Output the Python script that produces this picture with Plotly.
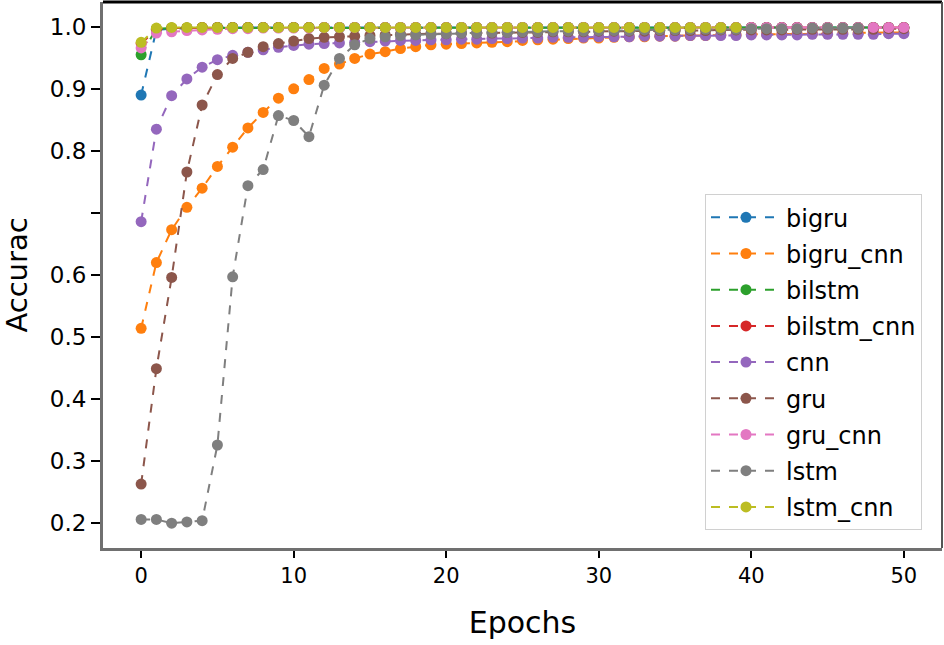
import plotly.graph_objects as go

# accuracy per epoch
bigru = [0.890, 0.995, 0.997, 0.998, 0.998, 0.999, 0.999, 0.999, 0.999, 0.999,
         0.999, 0.999, 0.999, 0.999, 0.999, 0.999, 0.999, 0.999, 0.999, 0.999,
         0.999, 0.999, 0.999, 0.999, 0.999, 0.999, 0.999, 0.999, 0.999, 0.999,
         0.999, 0.999, 0.999, 0.999, 0.999, 0.999, 0.999, 0.999, 0.999, 0.999,
         0.999, 0.999, 0.999, 0.999, 0.999, 0.999, 0.999, 0.999, 0.999, 0.999, 0.999]
bigru_cnn = [0.514, 0.620, 0.673, 0.709, 0.740, 0.775, 0.806, 0.837, 0.862, 0.885,
             0.900, 0.915, 0.933, 0.940, 0.949, 0.956, 0.960, 0.965, 0.968, 0.971,
             0.972, 0.973, 0.974, 0.975, 0.976, 0.978, 0.979, 0.980, 0.981, 0.982,
             0.982, 0.983, 0.984, 0.984, 0.985, 0.985, 0.986, 0.986, 0.987, 0.987,
             0.988, 0.988, 0.988, 0.989, 0.989, 0.989, 0.990, 0.990, 0.990, 0.990, 0.991]
bilstm = [0.955, 0.997, 0.998, 0.998, 0.999, 0.999, 0.999, 0.999, 0.999, 0.999,
          0.999, 0.999, 0.999, 0.999, 0.999, 0.999, 0.999, 0.999, 0.999, 0.999,
          0.999, 0.999, 0.999, 0.999, 0.999, 0.999, 0.999, 0.999, 0.999, 0.999,
          0.999, 0.999, 0.999, 0.999, 0.999, 0.999, 0.999, 0.999, 0.999, 0.999,
          0.999, 0.999, 0.999, 0.999, 0.999, 0.999, 0.999, 0.999, 0.999, 0.999, 0.999]
bilstm_cnn = [0.973, 0.996, 0.998, 0.998, 0.999, 0.999, 0.999, 0.999, 0.999, 0.999,
              0.999, 0.999, 0.999, 0.999, 0.999, 0.999, 0.999, 0.999, 0.999, 0.999,
              0.999, 0.999, 0.999, 0.999, 0.999, 0.999, 0.999, 0.999, 0.999, 0.999,
              0.999, 0.999, 0.999, 0.999, 0.999, 0.999, 0.999, 0.999, 0.999, 0.999,
              0.999, 0.999, 0.999, 0.999, 0.999, 0.999, 0.999, 0.999, 0.999, 0.999, 0.999]
cnn = [0.686, 0.835, 0.889, 0.916, 0.935, 0.947, 0.954, 0.959, 0.963, 0.967,
       0.970, 0.972, 0.973, 0.974, 0.975, 0.976, 0.977, 0.978, 0.978, 0.979,
       0.979, 0.980, 0.980, 0.981, 0.981, 0.982, 0.982, 0.983, 0.983, 0.983,
       0.984, 0.984, 0.984, 0.985, 0.985, 0.985, 0.986, 0.986, 0.986, 0.986,
       0.987, 0.987, 0.987, 0.987, 0.988, 0.988, 0.988, 0.988, 0.988, 0.989, 0.989]
gru = [0.263, 0.449, 0.596, 0.766, 0.874, 0.923, 0.949, 0.959, 0.968, 0.973,
       0.977, 0.981, 0.983, 0.984, 0.985, 0.986, 0.987, 0.988, 0.988, 0.989,
       0.989, 0.990, 0.990, 0.990, 0.991, 0.991, 0.991, 0.992, 0.992, 0.992,
       0.993, 0.993, 0.993, 0.993, 0.994, 0.994, 0.994, 0.994, 0.995, 0.995,
       0.995, 0.995, 0.995, 0.996, 0.996, 0.996, 0.996, 0.996, 0.996, 0.997, 0.997]
gru_cnn = [0.966, 0.990, 0.992, 0.994, 0.995, 0.996, 0.997, 0.997, 0.998, 0.998,
           0.998, 0.998, 0.999, 0.999, 0.999, 0.999, 0.999, 0.999, 0.999, 0.999,
           0.999, 0.999, 0.999, 0.999, 0.999, 0.999, 0.999, 0.999, 0.999, 0.999,
           0.999, 0.999, 0.999, 0.999, 0.999, 0.999, 0.999, 0.999, 0.999, 0.999,
           0.999, 0.999, 0.999, 0.999, 0.999, 0.999, 0.999, 0.999, 0.999, 0.999, 0.999]
lstm = [0.206, 0.206, 0.200, 0.202, 0.204, 0.326, 0.597, 0.744, 0.770, 0.857,
        0.849, 0.823, 0.906, 0.949, 0.971, 0.981, 0.984, 0.986, 0.987, 0.988,
        0.989, 0.990, 0.990, 0.991, 0.991, 0.992, 0.992, 0.993, 0.993, 0.993,
        0.994, 0.994, 0.994, 0.995, 0.995, 0.995, 0.996, 0.996, 0.996, 0.996,
        0.997, 0.997, 0.997, 0.997, 0.998, 0.998, 0.998, 0.998]
lstm_cnn = [0.975, 0.998, 0.999, 0.999, 0.999, 0.999, 0.999, 0.999, 0.999, 0.999,
            0.999, 0.999, 0.999, 0.999, 0.999, 0.999, 0.999, 0.999, 0.999, 0.999,
            0.999, 0.999, 0.999, 0.999, 0.999, 0.999, 0.999, 0.999, 0.999, 0.999,
            0.999, 0.999, 0.999, 0.999, 0.999, 0.999, 0.999, 0.999, 0.999, 0.999]

names = ['bigru', 'bigru_cnn', 'bilstm', 'bilstm_cnn', 'cnn', 'gru', 'gru_cnn', 'lstm', 'lstm_cnn']
series = [bigru, bigru_cnn, bilstm, bilstm_cnn, cnn, gru, gru_cnn, lstm, lstm_cnn]
colors = ['#1f77b4', '#ff7f0e', '#2ca02c', '#d62728', '#9467bd',
          '#8c564b', '#e377c2', '#7f7f7f', '#bcbd22']

y_ticks = [0.2, 0.3, 0.4, 0.5, 0.6, 0.7, 0.8, 0.9, 1.0]
y_ticktext = ['0.2', '0.3', '0.4', '0.5', '0.6', '', '0.8', '0.9', '1.0']
x_ticks = [0, 10, 20, 30, 40, 50]

FONT = 'DejaVu Sans'

fig = go.Figure()
for nm, vals, col in zip(names, series, colors):
    fig.add_trace(go.Scatter(
        x=list(range(len(vals))),
        y=vals,
        name=nm,
        legendgroup=nm,
        mode='lines+markers',
        line=dict(color=col, width=2, dash='dash'),
        marker=dict(color=col, size=11, symbol='circle'),
    ))

# top / right frame in black, left / bottom drawn by the axes in grey
fig.add_shape(type='line', xref='paper', yref='paper', x0=0, x1=1, y0=1, y1=1,
              line=dict(color='black', width=3))
fig.add_shape(type='line', xref='paper', yref='paper', x0=1, x1=1, y0=0, y1=1,
              line=dict(color='#555555', width=2))

fig.update_layout(
    width=944, height=645,
    margin=dict(l=103, r=2, t=2, b=97, autoexpand=False),
    plot_bgcolor='white',
    paper_bgcolor='white',
    font=dict(family=FONT, color='black'),
    showlegend=True,
    legend=dict(
        x=0.7175, y=0.648, xanchor='left', yanchor='top',
        bgcolor='white', bordercolor='#d0d0d0', borderwidth=1,
        font=dict(family=FONT, size=24, color='black'),
        tracegroupgap=2,
        itemwidth=70,
    ),
    xaxis=dict(
        range=[-2.5, 52.5],
        tickvals=x_ticks,
        ticks='outside', ticklen=7, tickwidth=2, tickcolor='black',
        showgrid=False, zeroline=False, automargin=False,
        showline=True, linecolor='#707070', linewidth=3,
        tickfont=dict(family=FONT, size=21),
        title=dict(text='Epochs', font=dict(family=FONT, size=30), standoff=25),
    ),
    yaxis=dict(
        range=[0.16, 1.04],
        tickvals=y_ticks, ticktext=y_ticktext,
        ticks='outside', ticklen=9, tickwidth=2, tickcolor='black',
        showgrid=False, zeroline=False, automargin=False,
        showline=True, linecolor='#707070', linewidth=3,
        tickfont=dict(family=FONT, size=23),
        title=dict(text='Accurac', font=dict(family=FONT, size=29), standoff=20),
    ),
)

# the page body has a default 8px margin; drop it so the figure sits at the corner
fig.write_html('out.html', config={'displayModeBar': False},
               post_script="document.body.style.margin='0';")
